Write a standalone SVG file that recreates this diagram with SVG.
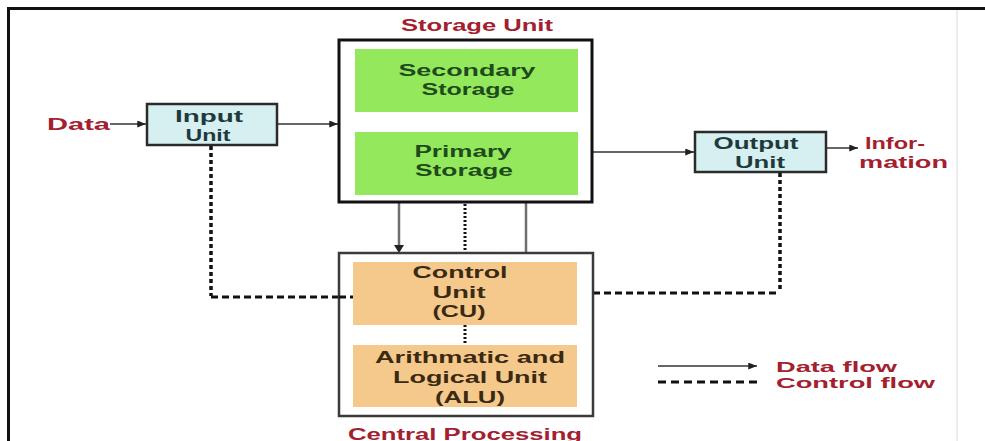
<svg xmlns="http://www.w3.org/2000/svg" width="985" height="441" viewBox="0 0 985 441">
<style>
text{font-family:"Liberation Sans",Arial,sans-serif;font-weight:bold;font-size:16px;text-anchor:middle}
.red{fill:#a3202e}
.grn{fill:#1f4a1c}
.brn{fill:#3a2a12}
.cyn{fill:#1e3a3c}
.lg{font-size:14px;text-anchor:start}
.box{fill:#d6eff0;stroke:#2b2b2b;stroke-width:2.5}
.green{fill:#93e85c}
.orange{fill:#f5c98c}
.data{fill:none;stroke:#333;stroke-width:1.5;marker-end:url(#ah)}
.gray{fill:none;stroke:#6e6e6e;stroke-width:2.5}
.ctrl{fill:none;stroke:#111;stroke-width:3.5;stroke-dasharray:4 3}
.ctrlh{fill:none;stroke:#111;stroke-width:3;stroke-dasharray:7 4}
.dot{fill:none;stroke:#111;stroke-width:3;stroke-dasharray:2 2}
</style>
<defs>
<marker id="ah" viewBox="0 0 10 8" refX="10" refY="4" markerWidth="9" markerHeight="7" markerUnits="userSpaceOnUse" orient="auto">
<path d="M0,0 L10,4 L0,8 z" fill="#222"/>
</marker>
</defs>
<rect width="985" height="441" fill="#fff"/>
<line x1="957" y1="9" x2="957" y2="441" stroke="#ececec" stroke-width="2"/>
<path d="M8.5,441 V8.5 H985" fill="none" stroke="#111" stroke-width="3"/>

<g id="connectors">
<line class="data" x1="110" y1="124" x2="146" y2="124"/>
<line class="data" x1="277" y1="124" x2="338" y2="124"/>
<line class="data" x1="420" y1="112" x2="420" y2="131"/>
<line class="data" x1="515" y1="132" x2="515" y2="113"/>
<line class="data" x1="592" y1="152" x2="694" y2="152"/>
<line class="data" x1="826" y1="148" x2="858" y2="148"/>
<line class="gray" x1="399" y1="202" x2="399" y2="246"/>
<path d="M394,245 L404,245 L399,253 z" fill="#222"/>
<line class="gray" x1="526" y1="252" x2="526" y2="201"/>
<path d="M520,203 L532,203 L526,195 z" fill="#222"/>
<line class="dot" x1="465" y1="196" x2="465" y2="252"/>
<line class="dot" x1="465" y1="325" x2="465" y2="345"/>
<path class="ctrl" d="M211,146 V296"/>
<path class="ctrlh" d="M211,297 H353"/>
<path class="ctrl" d="M780,173 V292"/>
<path class="ctrlh" d="M593,293 H780"/>
</g>

<g id="data-label">
<text class="red" x="78.5" y="130" textLength="63" lengthAdjust="spacingAndGlyphs">Data</text>
</g>

<g id="input-unit">
<rect class="box" x="147" y="104" width="130" height="41"/>
<text class="cyn" x="209" y="122" textLength="68" lengthAdjust="spacingAndGlyphs">Input</text>
<text class="cyn" x="208" y="141" textLength="45" lengthAdjust="spacingAndGlyphs">Unit</text>
</g>

<g id="storage-unit">
<text class="red" x="477" y="31" textLength="152" lengthAdjust="spacingAndGlyphs">Storage Unit</text>
<rect x="339" y="40" width="253" height="162" fill="#fff" stroke="#111" stroke-width="3"/>
<g id="secondary-storage">
<rect class="green" x="355" y="49" width="223" height="63"/>
<text class="grn" x="467" y="76" textLength="137" lengthAdjust="spacingAndGlyphs">Secondary</text>
<text class="grn" x="468" y="95" textLength="93" lengthAdjust="spacingAndGlyphs">Storage</text>
</g>
<g id="primary-storage">
<rect class="green" x="355" y="132" width="223" height="63"/>
<text class="grn" x="463" y="157" textLength="97" lengthAdjust="spacingAndGlyphs">Primary</text>
<text class="grn" x="464" y="176" textLength="98" lengthAdjust="spacingAndGlyphs">Storage</text>
</g>
</g>

<g id="output-unit">
<rect class="box" x="695" y="132" width="131" height="40"/>
<text class="cyn" x="756" y="149" textLength="85" lengthAdjust="spacingAndGlyphs">Output</text>
<text class="cyn" x="760" y="168" textLength="50" lengthAdjust="spacingAndGlyphs">Unit</text>
</g>

<g id="information-label">
<text class="red" x="895" y="149" textLength="60" lengthAdjust="spacingAndGlyphs">Infor-</text>
<text class="red" x="903.5" y="168" textLength="89" lengthAdjust="spacingAndGlyphs">mation</text>
</g>

<g id="cpu">
<rect x="339" y="253" width="254" height="163" fill="#fff" stroke="#3a3a3a" stroke-width="2.5"/>
<line class="ctrlh" x1="339" y1="297" x2="353" y2="297"/>
<g id="control-unit">
<rect class="orange" x="353" y="262" width="224" height="63"/>
<text class="brn" x="460" y="278" textLength="95" lengthAdjust="spacingAndGlyphs">Control</text>
<text class="brn" x="459" y="298" textLength="53" lengthAdjust="spacingAndGlyphs">Unit</text>
<text class="brn" x="459" y="317" textLength="53" lengthAdjust="spacingAndGlyphs">(CU)</text>
</g>
<line class="dot" x1="465" y1="325" x2="465" y2="345"/>
<g id="alu">
<rect class="orange" x="353" y="345" width="224" height="62"/>
<text class="brn" x="470" y="363" textLength="190" lengthAdjust="spacingAndGlyphs">Arithmatic and</text>
<text class="brn" x="470" y="383" textLength="154" lengthAdjust="spacingAndGlyphs">Logical Unit</text>
<text class="brn" x="470" y="403" textLength="70" lengthAdjust="spacingAndGlyphs">(ALU)</text>
</g>
<text class="red" x="465" y="440" textLength="234" lengthAdjust="spacingAndGlyphs">Central Processing</text>
</g>

<g id="legend">
<line class="data" x1="658" y1="366" x2="757" y2="366"/>
<line x1="658" y1="382" x2="757" y2="382" stroke="#111" stroke-width="3" stroke-dasharray="8 5"/>
<text class="red lg" x="776" y="372" textLength="121" lengthAdjust="spacingAndGlyphs">Data flow</text>
<text class="red lg" x="776" y="388" textLength="159" lengthAdjust="spacingAndGlyphs">Control flow</text>
</g>
</svg>
